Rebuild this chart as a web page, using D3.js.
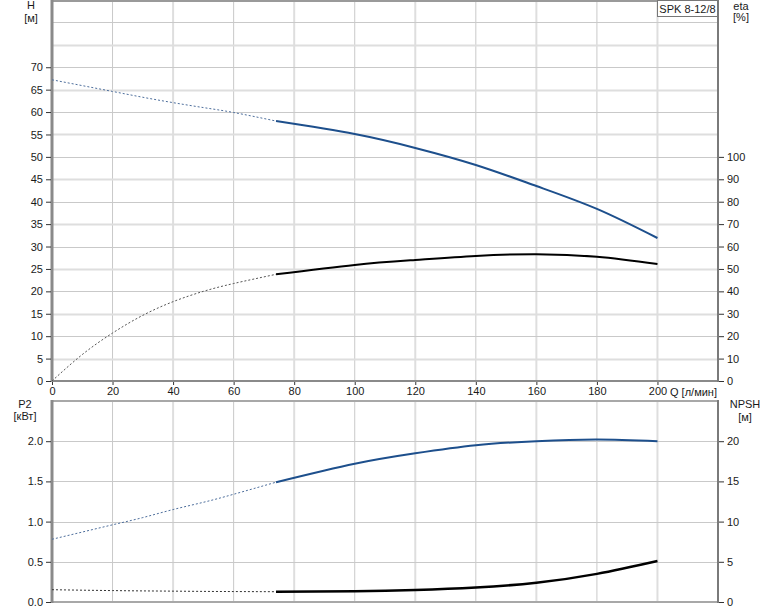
<!DOCTYPE html>
<html><head><meta charset="utf-8">
<script src="https://cdn.jsdelivr.net/npm/d3@7"></script>
<style>
html,body{margin:0;padding:0;background:#fff;}
svg{display:block;font-family:"Liberation Sans",Arial,sans-serif;}
</style></head>
<body>
<script>
// ---- data ----
const qDot = [0, 10, 20, 30, 40, 50, 60, 74];
const qSolid = [74, 100, 120, 140, 160, 180, 200];
const headDot = [67.2, 65.9, 64.6, 63.3, 62.1, 61.0, 59.9, 58.0];
const headSolid = [58.0, 55.1, 52.0, 48.2, 43.5, 38.4, 31.9];
const etaDot = [0, 11.8, 21.4, 29.3, 35.4, 40.0, 43.5, 47.6];
const etaSolid = [47.6, 51.8, 54.0, 55.8, 56.6, 55.4, 52.2];
const p2Dot = [0.78, 0.87, 0.96, 1.05, 1.15, 1.24, 1.34, 1.49];
const p2Solid = [1.49, 1.72, 1.85, 1.95, 2.0, 2.02, 2.0];
const npshDot = [1.53, 1.47, 1.42, 1.38, 1.35, 1.32, 1.30, 1.28];
const npshSolid = [1.28, 1.35, 1.5, 1.8, 2.4, 3.5, 5.1];
const qTicks = [0, 20, 40, 60, 80, 100, 120, 140, 160, 180, 200];
const hTicks = [0, 5, 10, 15, 20, 25, 30, 35, 40, 45, 50, 55, 60, 65, 70];
const etaTicks = [0, 10, 20, 30, 40, 50, 60, 70, 80, 90, 100];
const p2Ticks = [0, 0.5, 1.0, 1.5, 2.0];
const npshTicks = [0, 5, 10, 15, 20];
const pumpName = "SPK 8-12/8";

// ---- layout ----
const W = 774, Ht = 611;
const svg = d3.select("body").append("svg").attr("width", W).attr("height", Ht);
const L = 52, R = 718;
const topT = 0, topB = 381, botT = 401, botB = 602;
const x = d3.scaleLinear().domain([0, 220]).range([L, R]);
const yH = d3.scaleLinear().domain([0, 85]).range([topB, topT]);
const yEta = d3.scaleLinear().domain([0, 170]).range([topB, topT]);
const yP = d3.scaleLinear().domain([0, 2.5]).range([botB, botT]);
const yN = d3.scaleLinear().domain([0, 25]).range([botB, botT]);
const textCol = "#1a1a1a";
const thin = "#c9c9c9", thick = "#dedede";

// grid
function vgrid(y0, y1) {
  d3.range(20, 220, 20).forEach(q => {
    const major = (q / 20) % 2 === 0;
    svg.append("line").attr("x1", x(q)).attr("x2", x(q)).attr("y1", y0).attr("y2", y1)
      .attr("stroke", major ? thick : thin).attr("stroke-width", major ? 2 : 1);
  });
}
vgrid(topT, topB);
vgrid(botT, botB);
d3.range(5, 85, 5).forEach(h => {
  const odd = (h / 5) % 2 === 1;
  svg.append("line").attr("x1", L).attr("x2", R).attr("y1", Math.round(yH(h)) + 0.5).attr("y2", Math.round(yH(h)) + 0.5)
    .attr("stroke", odd ? thick : thin).attr("stroke-width", odd ? 2 : 1);
});
[0.5, 1.0, 1.5, 2.0].forEach(p => {
  svg.append("line").attr("x1", L).attr("x2", R).attr("y1", Math.round(yP(p)) + 0.5).attr("y2", Math.round(yP(p)) + 0.5)
    .attr("stroke", thin).attr("stroke-width", 1);
});

// frames
function ln(x1, y1, x2, y2, c, w) {
  svg.append("line").attr("x1", x1).attr("y1", y1).attr("x2", x2).attr("y2", y2).attr("stroke", c).attr("stroke-width", w);
}
ln(L, topT + 1, R, topT + 1, "#9a9a9a", 2);
ln(L, topB, R, topB, "#8a8a8a", 2);
ln(L, botT, R, botT, "#a8a8a8", 2);
ln(L, botB, R, botB, "#a8a8a8", 2);
ln(L, topT, L, topB + 1, "#8a8a8a", 3);
ln(L, botT - 1, L, botB + 1, "#8a8a8a", 3);
ln(R, topT, R, topB + 1, "#7a7a7a", 2);
ln(R, botT - 1, R, botB + 1, "#7a7a7a", 2);

// axes
function styleAxis(g) {
  g.select(".domain").remove();
  g.selectAll(".tick line").attr("stroke", "#333");
  g.selectAll(".tick text").attr("fill", textCol).style("font-size", "11px").style("font-family", "'Liberation Sans',Arial,sans-serif");
}
svg.append("g").attr("transform", `translate(${L - 1},0)`)
  .call(d3.axisLeft(yH).tickValues(hTicks).tickSize(5).tickPadding(3)).call(styleAxis);
svg.append("g").attr("transform", `translate(${R + 1},0)`)
  .call(d3.axisRight(yEta).tickValues(etaTicks).tickSize(5).tickPadding(3)).call(styleAxis);
svg.append("g").attr("transform", `translate(${L - 1},0)`)
  .call(d3.axisLeft(yP).tickValues(p2Ticks).tickSize(5).tickPadding(3).tickFormat(d3.format(".1f"))).call(styleAxis);
svg.append("g").attr("transform", `translate(${R + 1},0)`)
  .call(d3.axisRight(yN).tickValues(npshTicks).tickSize(5).tickPadding(3)).call(styleAxis);
svg.append("g").attr("transform", `translate(0,${topB + 1})`)
  .call(d3.axisBottom(x).tickValues(qTicks).tickSize(3).tickPadding(2)).call(styleAxis);

// text labels
function txt(s, tx, ty, anchor) {
  svg.append("text").attr("x", tx).attr("y", ty).attr("text-anchor", anchor || "middle")
    .attr("fill", textCol).style("font-size", "11px").text(s);
}
txt("H", 31, 9); txt("[м]", 31, 22);
txt("eta", 741, 10); txt("[%]", 741, 21);
txt("P2", 25, 408); txt("[кВт]", 25, 420);
txt("NPSH", 745, 408); txt("[м]", 745, 421);
txt("Q [л/мин]", 670, 396, "start");

// legend box
svg.append("rect").attr("x", 657.5).attr("y", 0.5).attr("width", 60).attr("height", 16)
  .attr("fill", "#fff").attr("stroke", "#777");
txt(pumpName, 687.5, 13);

// curves
const blue = "#1d4f8c";
function curve(qs, vs, ys, color, width, dash) {
  const line = d3.line().x((d, i) => x(qs[i])).y(d => ys(d)).curve(d3.curveNatural);
  const p = svg.append("path").attr("d", line(vs)).attr("fill", "none")
    .attr("stroke", color).attr("stroke-width", width);
  if (dash) p.attr("stroke-dasharray", dash);
}
curve(qDot, headDot, yH, "#4d6e9c", 1, "2,2");
curve(qSolid, headSolid, yH, blue, 2);
curve(qDot, etaDot, yEta, "#555", 1, "2,2");
curve(qSolid, etaSolid, yEta, "#000", 2);
curve(qDot, p2Dot, yP, "#4d6e9c", 1, "2,2");
curve(qSolid, p2Solid, yP, blue, 2);
curve(qDot, npshDot, yN, "#333", 1, "2,2");
curve(qSolid, npshSolid, yN, "#000", 2.5);
</script>
</body></html>
